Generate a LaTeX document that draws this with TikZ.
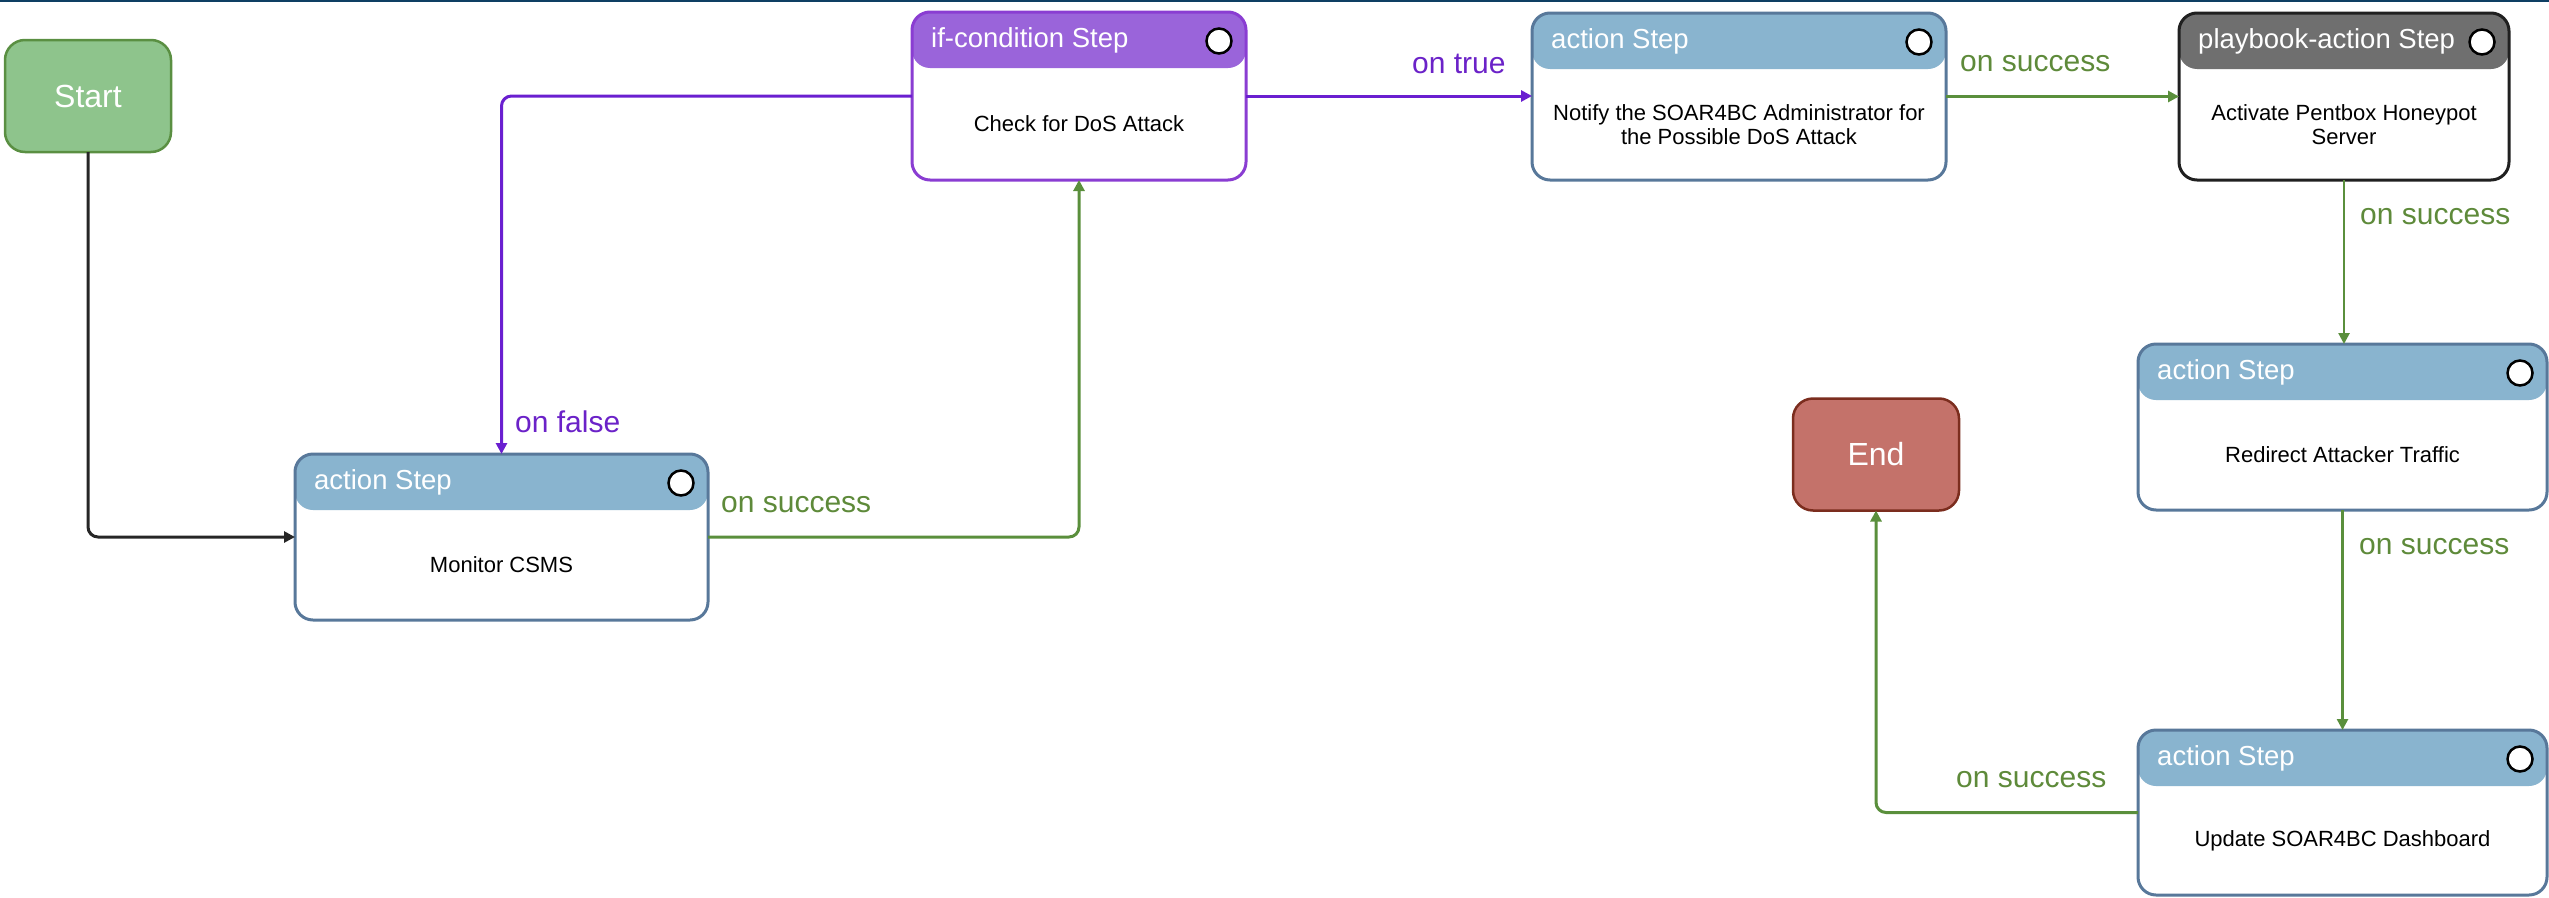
\documentclass[tikz,border=0pt]{standalone}
\usepackage{fontspec}
\setmainfont{Liberation Sans}
\usetikzlibrary{arrows.meta}

% palette
\definecolor{actHdr}{HTML}{89B4CF}
\definecolor{actBrd}{HTML}{58789A}
\definecolor{ifHdr}{HTML}{9A64DA}
\definecolor{ifBrd}{HTML}{8A3DD2}
\definecolor{pbHdr}{HTML}{6F6F6F}
\definecolor{pbBrd}{HTML}{202020}
\definecolor{startFill}{HTML}{8EC48C}
\definecolor{startBrd}{HTML}{5A8F42}
\definecolor{endFill}{HTML}{C4726A}
\definecolor{endBrd}{HTML}{7B2D1E}
\definecolor{okLine}{HTML}{5A8F3C}
\definecolor{okText}{HTML}{5E8A3A}
\definecolor{condLine}{HTML}{6A1FD0}
\definecolor{condText}{HTML}{6B22C8}
\definecolor{topBar}{HTML}{0E3F63}

\tikzset{
  stepbox/.style args={#1/#2/#3/#4}{% header colour / border colour / width / height
    rectangle, rounded corners=18pt, draw=#2, line width=3pt, fill=white,
    minimum width=#3, minimum height=#4, inner sep=0pt, outer sep=0pt,
    path picture={\fill[#1] (path picture bounding box.north west)
      rectangle ([yshift=-56pt]path picture bounding box.north east);}},
  terminal/.style args={#1/#2}{%
    rectangle, rounded corners=20pt, draw=#2, line width=2.5pt, fill=#1,
    minimum width=166pt, minimum height=112pt, inner sep=0pt, outer sep=0pt,
    text=white, font=\fontsize{32}{36}\selectfont},
  hdrtext/.style={anchor=west, text=white, inner sep=0pt,
    font=\fontsize{27.5}{31}\selectfont},
  bodytext/.style={align=center, text=black, inner sep=0pt,
    font=\fontsize{22}{24}\selectfont},
  knob/.style={circle, draw=black, fill=white, line width=2.5pt,
    minimum size=25pt, inner sep=0pt},
  flowlabel/.style={anchor=west, inner sep=0pt,
    font=\fontsize{30}{34}\selectfont},
  link/.style={line width=3pt, rounded corners=10pt,
    -{Triangle[length=11pt,width=11pt]}},
  oklink/.style={link, draw=okLine},
  condlink/.style={link, draw=condLine},
  plainlink/.style={link, draw=black!85},
}

\newcommand{\stepheader}[3]{% node, title, body
  \node[hdrtext] (#1-title) at ([xshift=19pt,yshift=-28pt]#1.north west) {#2};
  \node[knob] (#1-knob) at ([xshift=-27pt,yshift=-29pt]#1.north east) {};
  \node[bodytext] (#1-body) at ([yshift=-28pt]#1.center) {#3};
}

\begin{document}
\begin{tikzpicture}[x=1pt,y=-1pt]
\useasboundingbox (0,0) rectangle (2549,897);
\fill[topBar] (0,0) rectangle (2549,1.6);

% terminals
\node[terminal=startFill/startBrd] (start) at (88,96) {Start};
\node[terminal=endFill/endBrd] (end) at (1876,454.5) {End};

% steps
\node[stepbox=actHdr/actBrd/413pt/166pt] (monitor) at (501.5,537) {};
\stepheader{monitor}{action Step}{Monitor CSMS}

\node[stepbox=ifHdr/ifBrd/334pt/168pt] (check) at (1079,96) {};
\stepheader{check}{if-condition Step}{Check for DoS Attack}

\node[stepbox=actHdr/actBrd/414pt/167pt] (notify) at (1739,96.5) {};
\stepheader{notify}{action Step}{Notify the SOAR4BC Administrator for\\the Possible DoS Attack}

\node[stepbox=pbHdr/pbBrd/330pt/167pt] (honeypot) at (2344,96.5) {};
\stepheader{honeypot}{playbook-action Step}{Activate Pentbox Honeypot\\Server}

\node[stepbox=actHdr/actBrd/409pt/166pt] (redirect) at (2342.5,427) {};
\stepheader{redirect}{action Step}{Redirect Attacker Traffic}

\node[stepbox=actHdr/actBrd/409pt/165pt] (dashboard) at (2342.5,812.5) {};
\stepheader{dashboard}{action Step}{Update SOAR4BC Dashboard}

% connectors
\draw[plainlink] (start) |- (monitor);
\draw[oklink] (monitor) -| (check);
\draw[condlink] (check) -| (monitor);
\draw[condlink] (check.east) -- (check.east -| notify.west);
\draw[oklink] (notify.east) -- (notify.east -| honeypot.west);
\draw[oklink, line width=2.5pt] (honeypot.south) -- (honeypot.south |- redirect.north);
\draw[oklink, line width=2.5pt] (redirect.south) -- (redirect.south |- dashboard.north);
\draw[oklink] (dashboard) -| (end);

% connector labels
\node[flowlabel, text=okText] (l-mon) at (721,505) {on success};
\node[flowlabel, text=condText] (l-true) at (1412,64) {on true};
\node[flowlabel, text=condText] (l-false) at (515,422) {on false};
\node[flowlabel, text=okText] (l-notify) at (1960,64) {on success};
\node[flowlabel, text=okText] (l-honey) at (2360,217) {on success};
\node[flowlabel, text=okText] (l-redir) at (2359,547) {on success};
\node[flowlabel, text=okText] (l-dash) at (1956,780) {on success};
\end{tikzpicture}
\end{document}
